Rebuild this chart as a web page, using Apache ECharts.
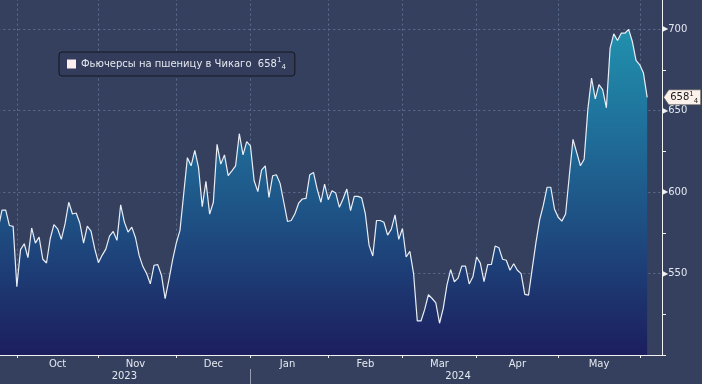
<!DOCTYPE html>
<html><head><meta charset="utf-8">
<script src="https://cdn.jsdelivr.net/npm/echarts@6/dist/echarts.min.js"></script>
<style>html,body{margin:0;padding:0;background:#35405e}#c{width:702px;height:384px}</style>
</head><body><div id="c"></div>
<script>
const seriesName = 'Фьючерсы на пшеницу в Чикаго';
const startDate = '2023-09-25';
const holidays = ['2023-11-23','2023-12-25','2024-01-01','2024-01-15','2024-02-19','2024-03-29','2024-05-27'];
const categoryCount = 180;
const monthLabels = {'2023-10':'Oct','2023-11':'Nov','2023-12':'Dec','2024-01':'Jan','2024-02':'Feb','2024-03':'Mar','2024-04':'Apr','2024-05':'May'};
const yearLabels = ['2023','2024'];
const yTickLabels = [550, 600, 650, 700];
const lastWhole = '658', lastNum = '1', lastDen = '4';
const prices = [
578,589,589,579.5,579,542,564.7,568.3,559.8,578,
568.7,572.4,558.8,556.5,571.4,580.1,577.5,571,580.5,593.8,
586.6,587.2,580.9,568.7,579.1,576.1,565.3,556.7,561.2,565,
573,575.9,570.4,592.2,581.6,575.5,578.5,572,561,554.3,
550,543.7,555.1,555.5,549,534.6,546,558.2,568.7,576.5,
598.9,621.2,616.2,625.7,615.1,591.1,606.6,586.5,593.8,629.4,
617.2,622.9,610.1,613.1,616.2,635.9,622.9,631,628.4,607,
600.3,613.5,616.2,596.8,610.1,610.7,605.4,593.8,582,582.6,
586.7,593.2,595.8,596.2,610.7,612.1,601.9,593.8,604.9,595.4,
600.9,599.5,590.7,596,601.9,588.7,597.4,597.4,596.5,586.6,
567.3,560.8,582.6,582.6,581.5,573.6,577.3,586,571,577.7,
560.2,563.6,550,520.9,520.9,528,537,534.7,532,519.5,
528.6,542.9,552.4,545,547.2,554.6,554.6,543.6,548,560.2,
556.4,545.1,555.5,555.6,566.9,565.9,558.8,558.2,552,556,
552,550,537.2,536.8,553,569,583,592,603,603,
589.7,584.6,582.2,586.6,610.1,632.4,624.3,616.2,620.2,650.8,
670.1,657.3,666,663,651.8,688.4,697.2,693.1,697.6,697.6,
700,692.5,680.9,678.2,673.1,658.25
];

function tradingDays(start, count) {
  const out = [];
  const d = new Date(start + 'T00:00:00Z');
  while (out.length < count) {
    const dow = d.getUTCDay();
    const s = d.toISOString().slice(0, 10);
    if (dow !== 0 && dow !== 6 && holidays.indexOf(s) < 0) out.push(s);
    d.setUTCDate(d.getUTCDate() + 1);
  }
  return out;
}
const dates = tradingDays(startDate, categoryCount);

const monthTicks = new Set();
const yearTicks = new Set();
for (let i = 1; i < dates.length; i++) {
  if (dates[i].slice(0, 7) !== dates[i - 1].slice(0, 7)) monthTicks.add(i);
  if (dates[i].slice(0, 4) !== dates[i - 1].slice(0, 4)) yearTicks.add(i);
}
function rangeOf(prefix) {
  let f = -1, l = -1;
  dates.forEach((d, i) => { if (d.indexOf(prefix) === 0) { if (f < 0) f = i; l = i; } });
  return [f, l];
}
const monthLabelAt = new Map();
Object.keys(monthLabels).forEach(k => { const r = rangeOf(k); monthLabelAt.set(Math.ceil((r[0] + r[1]) / 2), monthLabels[k]); });
const yearLabelAt = new Map();
yearLabels.forEach(y => { const r = rangeOf(y); yearLabelAt.set(Math.round((r[0] + r[1]) / 2), y); });

const FF = 'DejaVu Sans';
const gridColor = '#5d6d90';
const axisColor = '#f2f2f2';
const textColor = '#e3e8ef';
const fracRich = {
  n: { fontSize: 10, fontFamily: FF, lineHeight: 14 },
  sup: { fontSize: 7, fontFamily: FF, verticalAlign: 'top', lineHeight: 8 },
  sub: { fontSize: 7, fontFamily: FF, verticalAlign: 'bottom', lineHeight: 8 }
};
const fracText = '{n|' + lastWhole + '}{sup|' + lastNum + '}{sub|' + lastDen + '}';

const chart = echarts.init(document.getElementById('c'), null, { renderer: 'canvas' });
chart.setOption({
  backgroundColor: '#35405e',
  animation: false,
  grid: { left: -1.7, right: 40, top: -11.4, bottom: 29, containLabel: false, outerBoundsMode: 'none' },
  legend: {
    left: 59, top: 52, icon: 'rect', itemWidth: 9, itemHeight: 9, itemGap: 0,
    padding: [5, 9, 5, 8], backgroundColor: '#333d5b', borderColor: '#14161e', borderWidth: 1, borderRadius: 3,
    selectedMode: false,
    itemStyle: { color: '#fbefef', borderWidth: 0 },
    textStyle: { color: textColor, fontSize: 10, fontFamily: FF, rich: {
      n: Object.assign({ color: textColor }, fracRich.n),
      sup: Object.assign({ color: textColor }, fracRich.sup),
      sub: Object.assign({ color: textColor }, fracRich.sub) } },
    formatter: n => n + '  ' + fracText,
    data: [seriesName]
  },
  xAxis: [{
    type: 'category', data: dates, boundaryGap: false,
    axisLine: { show: true, lineStyle: { color: axisColor, width: 1 } },
    axisTick: { show: true, interval: i => monthTicks.has(i), length: 3, lineStyle: { color: axisColor } },
    axisLabel: { interval: i => monthLabelAt.has(i), formatter: (v, i) => monthLabelAt.get(i) || '', margin: 4, color: textColor, fontSize: 10, fontFamily: FF },
    splitLine: { show: true, interval: i => monthTicks.has(i), lineStyle: { color: gridColor, type: [2, 3], width: 1 } }
  }, {
    type: 'category', data: dates, boundaryGap: false, position: 'bottom', offset: 14,
    axisLine: { show: false },
    axisTick: { show: true, interval: i => yearTicks.has(i), length: 15, lineStyle: { color: '#949db2' } },
    axisLabel: { interval: i => yearLabelAt.has(i), formatter: (v, i) => yearLabelAt.get(i) || '', margin: 2, color: textColor, fontSize: 10, fontFamily: FF },
    splitLine: { show: false }
  }],
  yAxis: {
    type: 'value', position: 'right', min: 500, max: 725, interval: 25,
    axisLine: { show: true, lineStyle: { color: axisColor, width: 1 } },
    axisTick: { show: true, length: 4, lineStyle: { color: axisColor } },
    axisLabel: {
      margin: 0,
      formatter: v => yTickLabels.indexOf(v) >= 0 ? '{t|▶}{v|' + v + '}' : '',
      rich: { t: { fontSize: 8, color: axisColor, fontFamily: FF }, v: { fontSize: 10, color: textColor, fontFamily: FF } }
    },
    splitLine: { show: true, lineStyle: { color: [gridColor, 'rgba(0,0,0,0)'], type: [2, 3], width: 1 } }
  },
  series: [{
    name: seriesName, type: 'line', data: prices, symbol: 'none', showSymbol: false,
    lineStyle: { color: '#e9eef6', width: 1.2 },
    itemStyle: { color: '#fbefef' },
    areaStyle: { origin: 'start', opacity: 1, color: { type: 'linear', x: 0, y: 0, x2: 0, y2: 355, global: true,
      colorStops: [{ offset: 0, color: '#219ab3' }, { offset: 0.35, color: '#1f719b' }, { offset: 0.62, color: '#1e5084' }, { offset: 1, color: '#1c1e5e' }] } },
    markPoint: {
      silent: true,
      symbol: 'path://M0,7 L5,0 L36,0 L36,14 L5,14 Z', symbolSize: [37, 15], symbolOffset: [35, 0],
      itemStyle: { color: '#fdf2eb', borderColor: '#5a5a5a', borderWidth: 0.6 },
      label: { show: true, position: 'inside', offset: [2, 0], formatter: fracText, color: '#1a1a1a', rich: {
        n: Object.assign({ color: '#1a1a1a' }, fracRich.n),
        sup: Object.assign({ color: '#1a1a1a' }, fracRich.sup),
        sub: Object.assign({ color: '#1a1a1a' }, fracRich.sub) } },
      data: [{ coord: [prices.length - 1, prices[prices.length - 1]] }]
    }
  }]
});
</script></body></html>
